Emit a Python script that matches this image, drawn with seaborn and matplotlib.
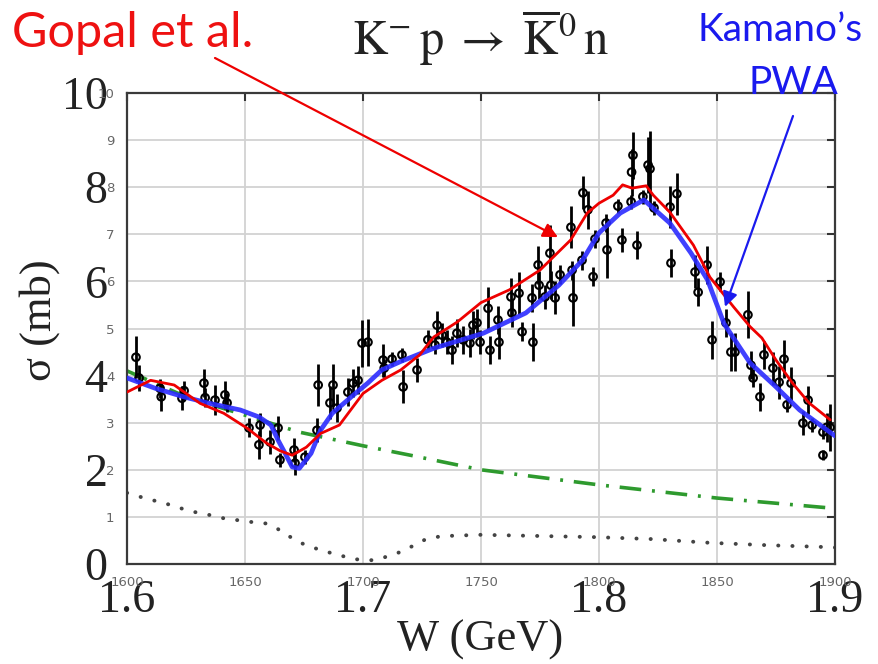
import numpy as np
import pandas as pd
import matplotlib
matplotlib.use("Agg")
import matplotlib.pyplot as plt
import seaborn as sns

# ---------------- data ----------------
W_data = [1603.8, 1605.1, 1614.0, 1614.5, 1623.3, 1624.2, 1632.6, 1633.1, 1637.3, 1641.5,
          1642.4, 1651.7, 1655.9, 1656.4, 1660.6, 1664.0, 1664.8, 1670.8, 1671.2, 1675.4,
          1680.5, 1681.0, 1686.0, 1687.3, 1689.0, 1693.6, 1695.8, 1697.9, 1699.6, 1702.1,
          1708.5, 1709.0, 1712.3, 1716.5, 1717.0, 1722.9, 1727.5, 1730.5, 1731.4, 1733.5,
          1735.6, 1737.7, 1739.8, 1742.4, 1745.3, 1746.6, 1748.3, 1749.6, 1753.0, 1753.8,
          1757.2, 1757.6, 1762.7, 1763.1, 1766.1, 1767.4, 1771.6, 1772.0, 1774.2, 1774.6,
          1777.1, 1779.2, 1779.6, 1781.4, 1783.5, 1788.1, 1788.6, 1789.0, 1792.8, 1793.2,
          1795.3, 1797.5, 1798.3, 1803.0, 1803.4, 1808.0, 1809.7, 1813.6, 1813.8, 1814.4,
          1816.1, 1818.6, 1820.8, 1821.6, 1823.3, 1830.1, 1833.0, 1830.5, 1840.7, 1845.8,
          1842.0, 1851.3, 1847.9, 1853.8, 1855.9, 1857.6, 1863.1, 1864.4, 1865.3, 1868.2,
          1869.9, 1873.7, 1876.3, 1878.4, 1881.4, 1879.7, 1886.4, 1888.6, 1890.3, 1894.9,
          1896.4, 1897.9, 1894.9]
sigma_data = [4.39, 3.95, 3.73, 3.55, 3.52, 3.68, 3.84, 3.53, 3.48, 3.59,
              3.42, 2.89, 2.53, 2.95, 2.59, 2.89, 2.21, 2.42, 2.14, 2.27,
              2.84, 3.80, 3.42, 3.80, 3.31, 3.65, 3.84, 3.90, 4.69, 4.71,
              4.33, 4.16, 4.35, 4.44, 3.76, 4.12, 4.76, 4.65, 5.07, 4.86,
              4.71, 4.54, 4.90, 4.76, 4.69, 5.07, 5.12, 4.71, 5.43, 4.54,
              5.18, 4.71, 5.67, 5.33, 5.75, 4.93, 5.65, 4.71, 6.35, 5.92,
              5.67, 6.60, 5.92, 5.65, 6.14, 7.15, 6.24, 5.65, 6.45, 7.88,
              7.52, 6.10, 6.90, 7.24, 6.67, 7.60, 6.88, 7.69, 8.32, 8.68,
              6.77, 7.80, 8.47, 8.39, 7.56, 7.58, 7.86, 6.39, 6.20, 6.35,
              5.77, 5.99, 4.76, 5.12, 4.50, 4.50, 5.29, 4.22, 3.95, 3.55,
              4.44, 4.16, 3.86, 4.35, 3.84, 3.38, 2.99, 3.48, 2.95, 2.80,
              2.90, 2.90, 2.31]
err_data = [0.45, 0.28, 0.20, 0.30, 0.25, 0.20, 0.30, 0.20, 0.32, 0.30,
            0.20, 0.20, 0.30, 0.25, 0.25, 0.25, 0.15, 0.25, 0.25, 0.15,
            0.25, 0.45, 0.35, 0.45, 0.30, 0.30, 0.30, 0.30, 0.50, 0.50,
            0.35, 0.20, 0.15, 0.15, 0.35, 0.25, 0.20, 0.20, 0.30, 0.25,
            0.25, 0.30, 0.30, 0.30, 0.30, 0.30, 0.30, 0.25, 0.45, 0.30,
            0.30, 0.35, 0.40, 0.30, 0.45, 0.20, 0.30, 0.40, 0.40, 0.30,
            0.25, 0.60, 0.30, 0.35, 0.20, 0.45, 0.20, 0.60, 0.20, 0.35,
            0.40, 0.20, 0.20, 0.20, 0.60, 0.15, 0.25, 0.15, 0.50, 0.50,
            0.30, 0.15, 0.60, 0.80, 0.15, 0.45, 0.45, 0.30, 0.35, 0.40,
            0.30, 0.20, 0.40, 0.30, 0.40, 0.40, 0.50, 0.30, 0.20, 0.30,
            0.30, 0.35, 0.35, 0.40, 0.35, 0.15, 0.25, 0.30, 0.15, 0.15,
            0.30, 0.50, 0.10]

W_kamano = [1600, 1612, 1624, 1635, 1648, 1656, 1661, 1664, 1667, 1670, 1673, 1678, 1682,
            1687, 1696, 1702, 1708, 1716, 1730, 1751, 1769, 1783, 1793, 1800, 1809, 1819,
            1830, 1839, 1846, 1853, 1864, 1875, 1885, 1900]
sigma_kamano = [3.95, 3.73, 3.55, 3.41, 3.27, 3.12, 2.95, 2.63, 2.35, 2.06, 2.03, 2.35, 2.84,
                3.20, 3.59, 3.84, 4.12, 4.30, 4.58, 4.90, 5.33, 5.92, 6.45, 7.03, 7.45, 7.73,
                7.24, 6.60, 6.03, 5.10, 4.27, 3.76, 3.27, 2.72]

W_gopal = [1600, 1610, 1620, 1631, 1641, 1651, 1659, 1665, 1670, 1676, 1682, 1690, 1700,
           1708, 1716, 1724, 1730, 1740, 1750, 1762, 1775, 1788, 1795, 1800, 1806, 1810,
           1814, 1820, 1823, 1830, 1840, 1847, 1857, 1864, 1869, 1875, 1882, 1889, 1898]
sigma_gopal = [3.65, 3.90, 3.80, 3.41, 3.20, 2.88, 2.57, 2.40, 2.31, 2.48, 2.77, 2.95, 3.62,
               3.90, 4.12, 4.44, 4.82, 5.14, 5.55, 5.82, 6.24, 6.88, 7.45, 7.66, 7.83, 8.05,
               7.98, 8.03, 7.83, 7.47, 6.77, 6.09, 5.46, 5.04, 4.80, 4.33, 3.84, 3.42, 3.06]

W_green = [1600, 1625, 1650, 1673, 1700, 1720, 1750, 1800, 1850, 1900]
sigma_green = [4.10, 3.55, 3.16, 2.80, 2.51, 2.31, 2.00, 1.68, 1.40, 1.18]

W_dotted = [1600, 1606, 1612, 1618, 1623, 1629, 1635, 1641, 1647, 1653, 1659, 1664, 1669,
            1674, 1680, 1686, 1692, 1697, 1704, 1709, 1715, 1721, 1726, 1732, 1738, 1750,
            1799, 1822, 1847, 1871, 1896, 1900]
sigma_dotted = [1.51, 1.42, 1.34, 1.26, 1.18, 1.10, 1.04, 0.97, 0.93, 0.89, 0.86, 0.74, 0.58,
                0.44, 0.33, 0.24, 0.16, 0.10, 0.08, 0.14, 0.24, 0.38, 0.51, 0.58, 0.60, 0.62,
                0.57, 0.53, 0.45, 0.40, 0.36, 0.35]

x_ticks = [1600, 1650, 1700, 1750, 1800, 1850, 1900]
y_ticks = [1, 2, 3, 4, 5, 6, 7, 8, 9, 10]
big_x_ticks = [1.6, 1.7, 1.8, 1.9]
big_x_labels = ["1.6", "1.7", "1.8", "1.9"]
big_y_ticks = [0, 2, 4, 6, 8, 10]
big_y_labels = ["0", "2", "4", "6", "8", "10"]

# ---------------- figure ----------------
sns.set_style("white")
plt.rcParams["font.family"] = ["DejaVu Sans"]
plt.rcParams["mathtext.fontset"] = "stix"

FW, FH = 879, 664
fig = plt.figure(figsize=(FW / 100, FH / 100), dpi=100)
ax = fig.add_axes([127 / FW, 100 / FH, 708 / FW, 471 / FH])
ax.set_xlim(1600, 1900)
ax.set_ylim(0, 10)
ax.set_xticks(x_ticks)
ax.set_yticks(y_ticks)
ax.set_xticklabels([str(t) for t in x_ticks])
ax.set_yticklabels([str(t) for t in y_ticks])
ax.grid(True, color="#d2d2d2", lw=1.3)
ax.set_axisbelow(True)
ax.tick_params(direction="in", length=6, width=1.5, color="#333333",
               labelsize=9.5, labelcolor="#666666", top=True, right=True, pad=9)
for s in ax.spines.values():
    s.set_color("#3a3a3a")
    s.set_linewidth(1.6)

# model curves
sns.lineplot(x=W_dotted, y=sigma_dotted, ax=ax, color="#444444", lw=2.8,
             linestyle=(0, (0.05, 3.6)), dash_capstyle="round", sort=False, zorder=2)
sns.lineplot(x=W_green, y=sigma_green, ax=ax, color="#2e9a2e", lw=2.6,
             linestyle=(0, (6, 3, 0.8, 3)), sort=False, zorder=2)

# data with error bars
ax.errorbar(W_data, sigma_data, yerr=err_data, fmt="none", ecolor="black",
            elinewidth=2.0, capsize=0, zorder=3)
sns.scatterplot(x=W_data, y=sigma_data, ax=ax, marker="o", s=30,
                facecolor="none", edgecolor="black", linewidth=1.5, zorder=4)

sns.lineplot(x=W_kamano, y=sigma_kamano, ax=ax, color="#2b2bff", lw=3.4,
             alpha=0.9, sort=False, zorder=5)
sns.lineplot(x=W_gopal, y=sigma_gopal, ax=ax, color="#ee0000", lw=2.0,
             sort=False, zorder=6)

# big overlaid tick labels
secx = ax.secondary_xaxis("bottom", functions=(lambda w: w / 1000.0, lambda g: g * 1000.0))
secx.set_xticks(big_x_ticks, labels=big_x_labels, fontsize=33,
                fontfamily="Liberation Serif", color="#222222")
secx.tick_params(length=0, pad=11)
secx.spines["bottom"].set_visible(False)

secy = ax.secondary_yaxis("left")
secy.set_yticks(big_y_ticks, labels=big_y_labels, fontsize=33,
                fontfamily="Liberation Serif", color="#222222")
secy.tick_params(length=0, pad=14)
secy.spines["left"].set_visible(False)

# axis titles
fig.text(480 / FW, 1 - 640 / FH, "W (GeV)", fontsize=32, family="Liberation Serif",
         ha="center", va="center", color="#222222")
fig.text(40 / FW, 1 - 320 / FH, "σ (mb)", fontsize=32, family="Liberation Serif",
         ha="center", va="center", rotation=90, color="#222222")

# title and annotations
fig.text(480 / FW, 1 - 38 / FH,
         r"$\mathrm{K}^{-}\,\mathrm{p}\;\rightarrow\;\overline{\mathrm{K}}^{0}\,\mathrm{n}$",
         fontsize=35, ha="center", va="center", color="#222222")
fig.text(133 / FW, 1 - 33 / FH, "Gopal et al.", fontsize=35, family="Lato",
         color="#ee1111", ha="center", va="center")
fig.text(780 / FW, 1 - 30 / FH, "Kamano’s", fontsize=28, family="Lato",
         color="#1a1aee", ha="center", va="center")
fig.text(793 / FW, 1 - 83 / FH, "PWA", fontsize=28, family="Lato",
         color="#1a1aee", ha="center", va="center")

ax.annotate("", xy=(1782.6, 6.94), xycoords="data", xytext=(215, FH - 58),
            textcoords="figure pixels", annotation_clip=False,
            arrowprops=dict(arrowstyle="-|>", color="#ee0000", lw=1.6,
                            mutation_scale=22, shrinkA=0, shrinkB=0), zorder=7)
ax.annotate("", xy=(1853.4, 5.46), xycoords="data", xytext=(793, FH - 116),
            textcoords="figure pixels", annotation_clip=False,
            arrowprops=dict(arrowstyle="-|>", color="#1a1aee", lw=1.6,
                            mutation_scale=22, shrinkA=0, shrinkB=0), zorder=7)

fig.savefig("out.png", dpi=100)
